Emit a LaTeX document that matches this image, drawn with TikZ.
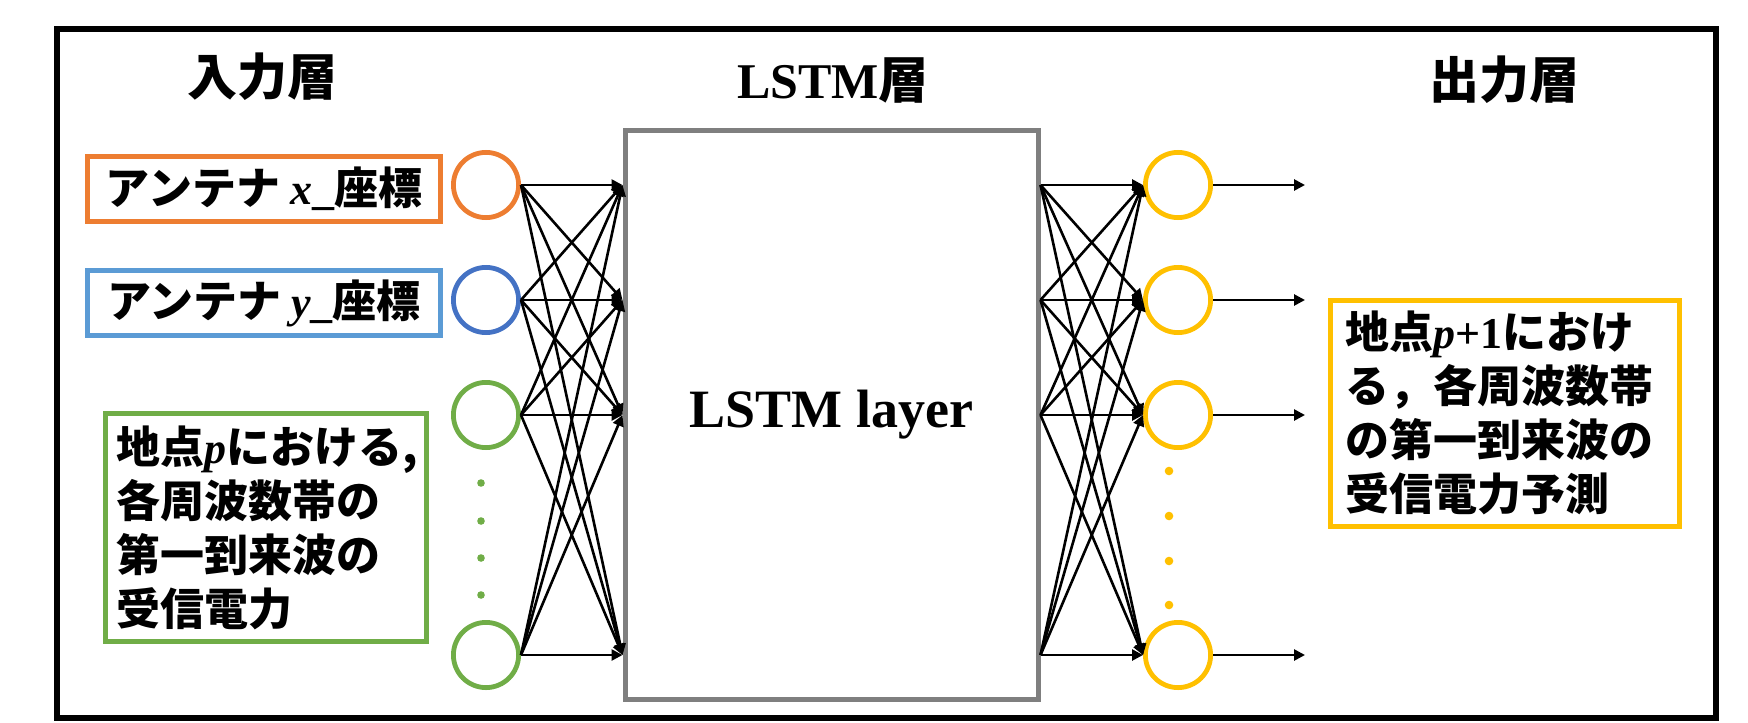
\documentclass[tikz,border=0pt]{standalone}
\usepackage{fontspec}
\setmainfont{Liberation Serif}
\newfontfamily\jp{Noto Sans CJK JP}
\usepackage{tikz}
\usetikzlibrary{arrows.meta,positioning}
\definecolor{horange}{HTML}{ED7D31}
\definecolor{hblue}{HTML}{5B9BD5}
\definecolor{hblued}{HTML}{4472C4}
\definecolor{hgreen}{HTML}{70AD47}
\definecolor{hyellow}{HTML}{FFC000}
\definecolor{hgray}{HTML}{7F7F7F}
\newcommand{\ivar}[1]{{\rmfamily\bfseries\itshape #1}}

\begin{document}
\begin{tikzpicture}[x=0.5pt, y=-0.5pt,
  font=\jp\bfseries\fontsize{22pt}{27pt}\selectfont,
  ttl/.style={font=\jp\bfseries\fontsize{25pt}{30pt}\selectfont},
  inbox/.style={draw, line width=2.5pt, align=left, minimum width=176.5pt, minimum height=32.5pt, inner sep=0pt},
  txtbox/.style={draw, line width=2.5pt, align=left, inner ysep=0pt},
  unit/.style={circle, line width=2.4pt, minimum size=32.6pt, inner sep=0pt},
  dot/.style={circle, inner sep=0pt, minimum size=3.8pt},
  arr/.style={-{Triangle[length=5.5pt, width=5.5pt]}, line width=1.3pt},
]
\useasboundingbox (0,0) rectangle (1748,722);
\draw[line width=2.6pt] (57,29) rectangle (1716,718);
\node[ttl] (tin) at (262,77) {入力層};
\node[ttl] (tlstm) at (833,80) {{\rmfamily LSTM}層};
\node[ttl] (tout) at (1504,80) {出力層};
\node[draw=hgray, line width=2.5pt, minimum width=206.5pt, minimum height=284.5pt,
  font=\rmfamily\bfseries\fontsize{27pt}{32pt}\selectfont] (lstm) at (831.5,414.5) {LSTM layer};
\foreach \i/\y/\c in {1/185/horange,2/300/hblued,3/415/hgreen,4/655/hgreen}
  \node[unit, draw=\c] (in\i) at (486,\y) {};
\foreach \i/\y in {1/185,2/300,3/415,4/655}
  \node[unit, draw=hyellow] (out\i) at (1178,\y) {};
\foreach \y [count=\k] in {483,521,558,595} \node[dot, fill=hgreen] (gdot\k) at (481,\y) {};
\foreach \y [count=\k] in {471,516,561,605} \node[dot, fill=hyellow, minimum size=4.3pt] (ydot\k) at (1169,\y) {};
\node[inbox, draw=horange, left=4pt of in1, yshift=-2pt] (xbox) {アンテナ \ivar{x}{\rmfamily\_}座標};
\node[inbox, draw=hblue, left=4pt of in2, yshift=-1.5pt] (ybox) {アンテナ \ivar{y}{\rmfamily\_}座標};
\node[txtbox, draw=hgreen, text width=150pt, inner xsep=5.3pt, minimum height=114pt] (pbox) at (266,527.5)
  {地点\ivar{p}における,\\各周波数帯の\\第一到来波の\\受信電力};
\node[txtbox, draw=hyellow, text width=160pt, inner xsep=7.3pt, minimum height=113pt, right=57.5pt of out3, yshift=1pt] (qbox)
  {地点\ivar{p}{\rmfamily +1}におけ\\る，各周波数帯\\の第一到来波の\\受信電力予測};
\foreach \i in {1,...,4}
  \foreach \j in {1,...,4} {
    \draw[arr] (in\i.east) -- (lstm.west |- in\j);
    \draw[arr] (lstm.east |- out\i) -- (out\j.west);
  }
\foreach \i in {1,...,4} {
  \coordinate (end\i) at ([xshift=46pt]out\i.east);
  \draw[arr] (out\i.east) -- (end\i);
}
\end{tikzpicture}
\end{document}
